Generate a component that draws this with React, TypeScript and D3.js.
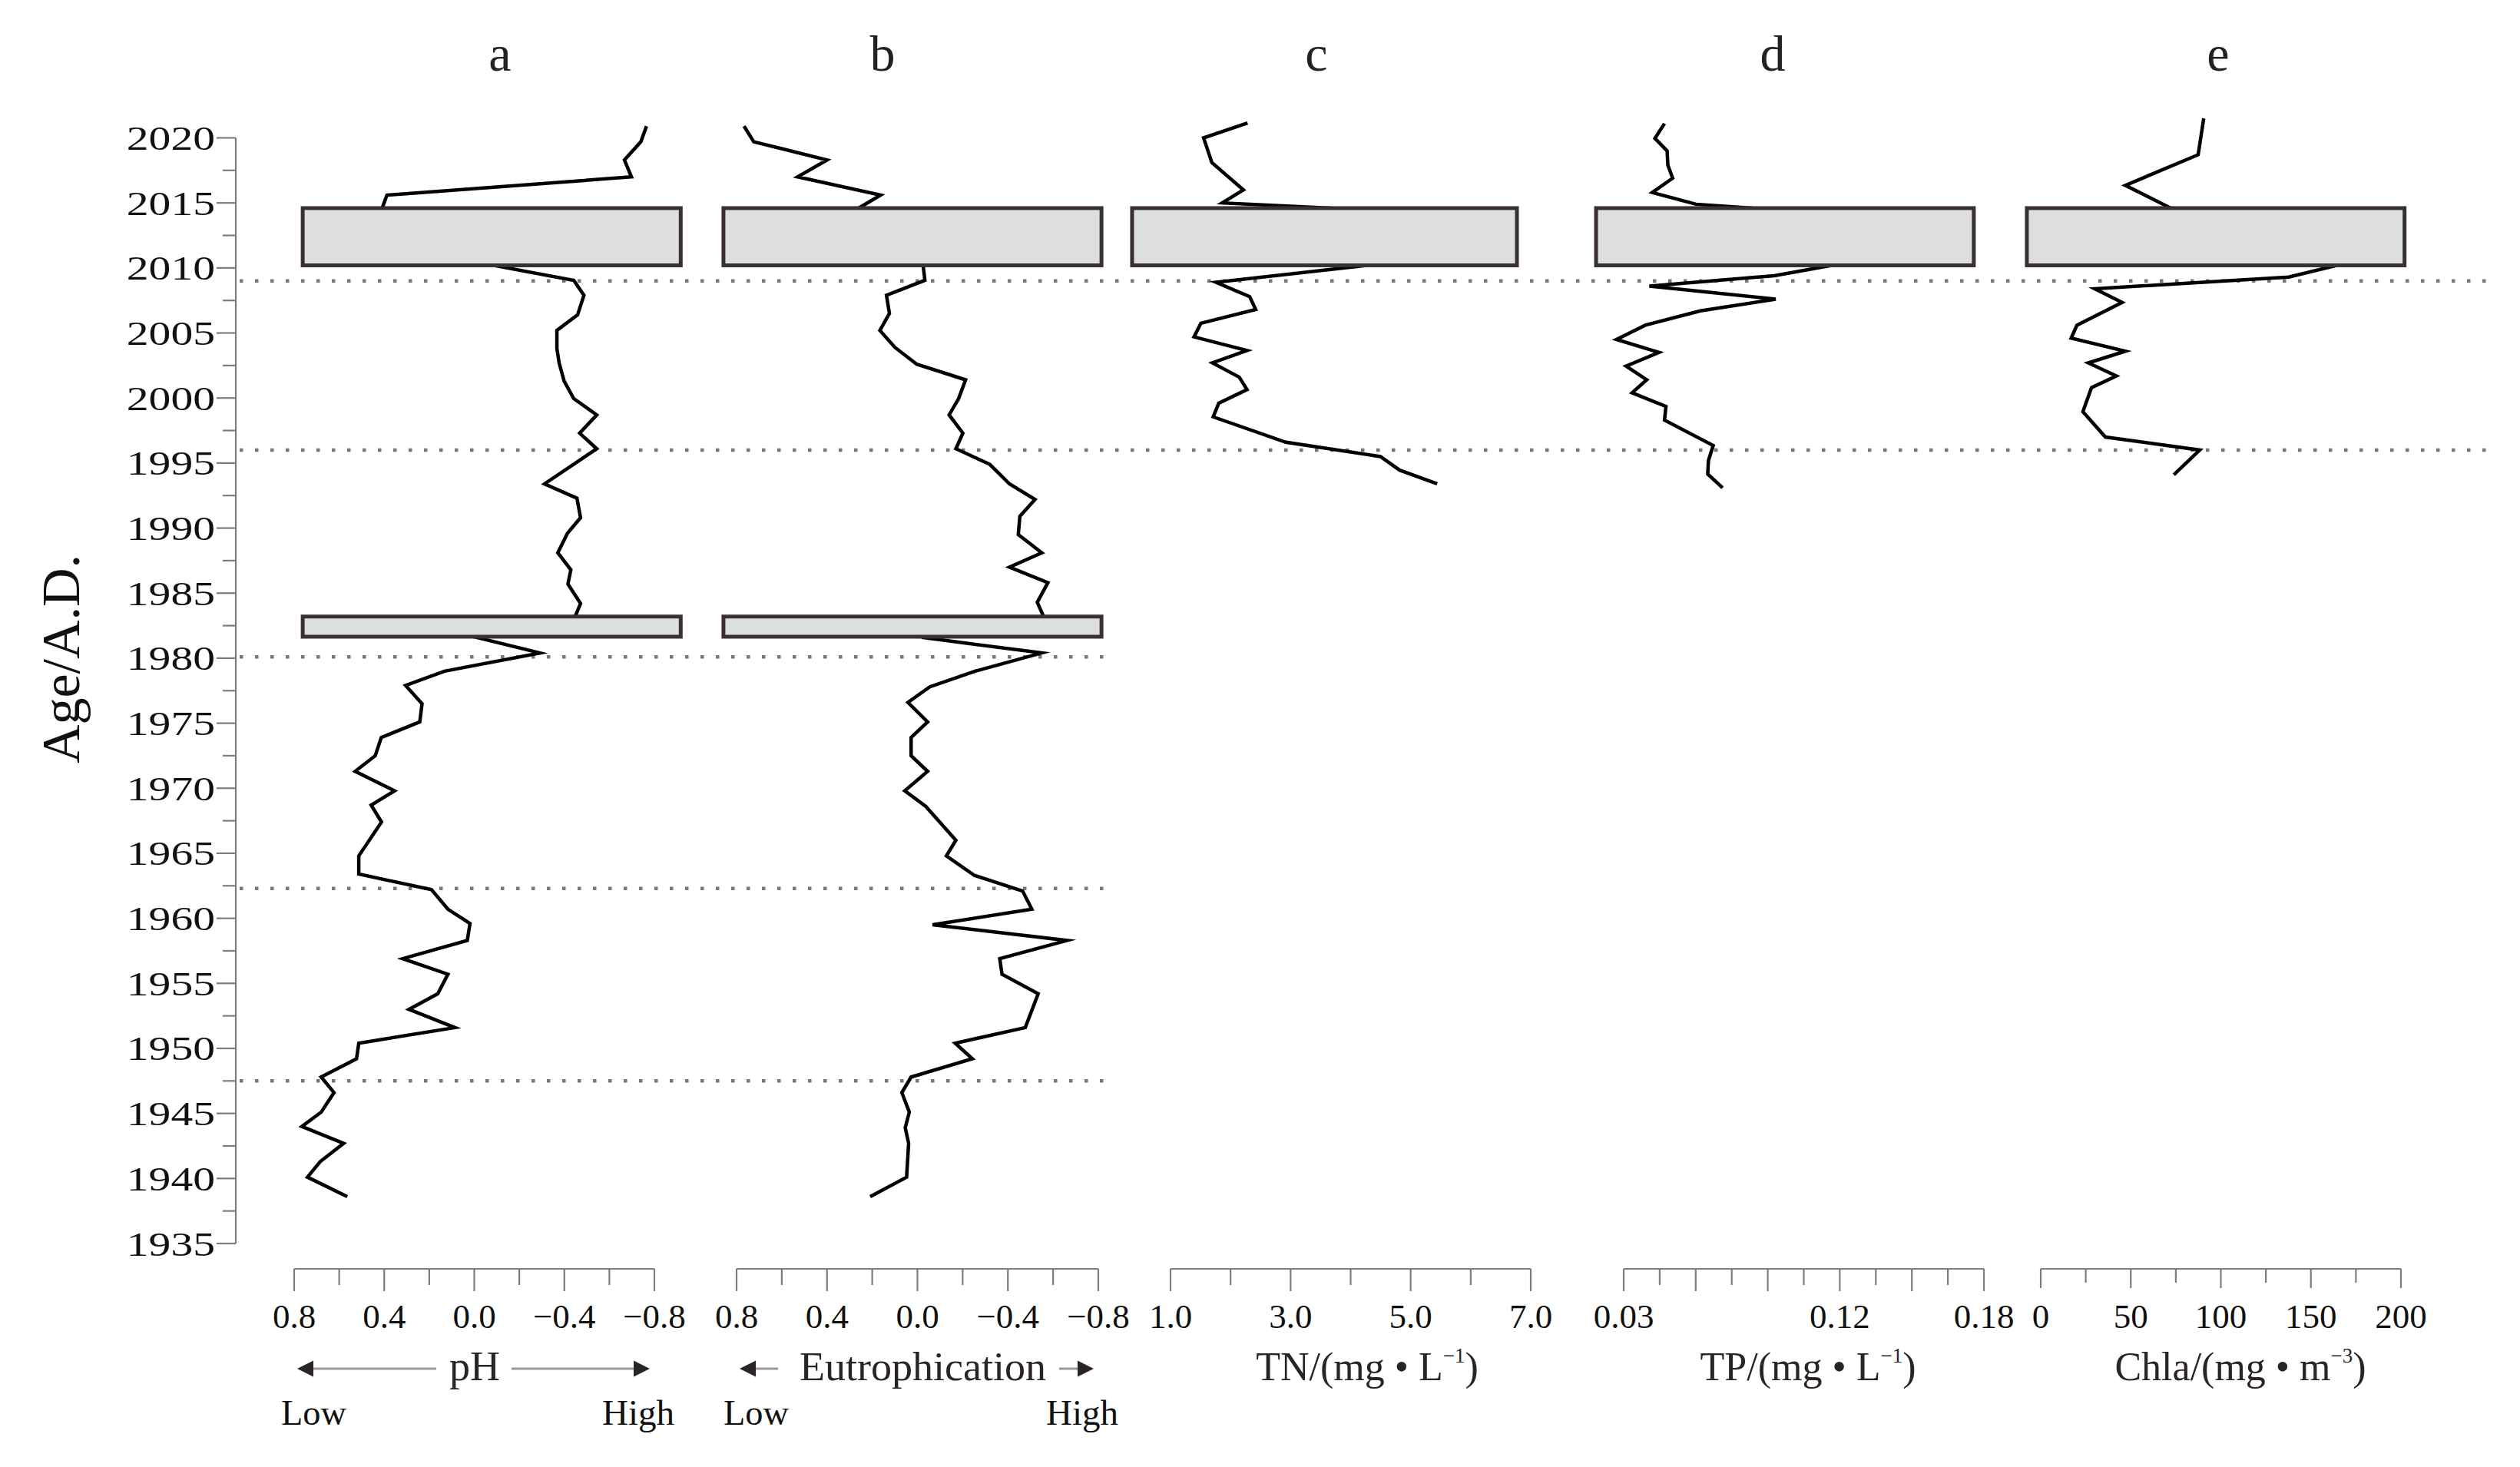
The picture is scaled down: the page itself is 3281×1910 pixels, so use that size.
import React from 'react';
import * as d3 from 'd3';

// ---------- data ----------
const yearMajorTicks = [1935, 1940, 1945, 1950, 1955, 1960, 1965, 1970, 1975, 1980, 1985, 1990, 1995, 2000, 2005, 2010, 2015, 2020];
const panelLetters = ['a', 'b', 'c', 'd', 'e'];

const phYears = [2020.9, 2019.7, 2018.3, 2017.0, 2015.6, 2014.6, 2010.2, 2009.05, 2007.9, 2006.4, 2005.2, 2003.8, 2002.7, 2001.3, 1999.95, 1998.7, 1997.3, 1996.1, 1993.4, 1992.3, 1990.8, 1989.6, 1988.1, 1986.8, 1985.7, 1984.2, 1983.2, 1981.6, 1980.4, 1979.0, 1977.9, 1976.5, 1975.1, 1973.9, 1972.5, 1971.3, 1969.8, 1968.7, 1967.4, 1964.8, 1963.4, 1962.2, 1960.7, 1959.6, 1958.3, 1956.9, 1955.7, 1954.2, 1953.0, 1951.6, 1950.4, 1949.2, 1947.8, 1946.6, 1945.1, 1944.0, 1942.7, 1941.3, 1940.1, 1938.6];
const phValues = [-0.765, -0.74, -0.667, -0.698, 0.388, 0.409, -0.084, -0.442, -0.487, -0.459, -0.367, -0.367, -0.377, -0.399, -0.442, -0.544, -0.468, -0.544, -0.312, -0.456, -0.472, -0.414, -0.371, -0.429, -0.416, -0.472, -0.448, -0.011, -0.292, 0.132, 0.305, 0.232, 0.242, 0.413, 0.44, 0.529, 0.354, 0.458, 0.412, 0.513, 0.513, 0.19, 0.117, 0.019, 0.031, 0.318, 0.117, 0.162, 0.29, 0.086, 0.513, 0.523, 0.68, 0.623, 0.68, 0.766, 0.58, 0.684, 0.741, 0.564];

const eutroYears = [2020.9, 2019.7, 2018.3, 2017.0, 2015.6, 2014.6, 2010.2, 2009.05, 2007.9, 2006.5, 2005.2, 2003.9, 2002.6, 2001.4, 1999.95, 1998.7, 1997.3, 1996.1, 1994.9, 1993.4, 1992.2, 1990.9, 1989.5, 1988.1, 1987.0, 1985.8, 1984.3, 1983.2, 1981.6, 1980.4, 1979.0, 1977.8, 1976.6, 1975.1, 1973.9, 1972.5, 1971.3, 1969.8, 1968.6, 1966.0, 1964.8, 1963.3, 1962.1, 1960.7, 1959.5, 1958.3, 1956.9, 1955.7, 1954.2, 1951.6, 1950.4, 1949.2, 1947.8, 1946.6, 1945.1, 1943.9, 1942.7, 1940.1, 1938.6];
const eutroValues = [0.767, 0.724, 0.4, 0.53, 0.163, 0.26, -0.025, -0.033, 0.137, 0.124, 0.166, 0.1, 0.003, -0.213, -0.182, -0.14, -0.201, -0.17, -0.32, -0.407, -0.52, -0.453, -0.446, -0.55, -0.407, -0.577, -0.53, -0.558, -0.019, -0.55, -0.255, -0.055, 0.042, -0.045, 0.028, 0.028, -0.045, 0.056, -0.037, -0.17, -0.128, -0.252, -0.465, -0.506, -0.067, -0.662, -0.364, -0.374, -0.534, -0.477, -0.167, -0.243, 0.028, 0.069, 0.036, 0.054, 0.039, 0.048, 0.209];

const tnYears = [2021.15, 2020.0, 2018.1, 2016.0, 2015.0, 2014.6, 2010.2, 2008.9, 2007.8, 2006.8, 2005.75, 2004.7, 2003.65, 2002.7, 2001.6, 2000.65, 1999.6, 1998.55, 1996.6, 1995.5, 1994.45, 1993.4];
const tnValues = [2.283, 1.551, 1.689, 2.214, 1.862, 3.652, 4.29, 1.757, 2.318, 2.419, 1.506, 1.391, 2.274, 1.698, 2.146, 2.274, 1.803, 1.711, 2.922, 4.497, 4.817, 5.442];

const tpYears = [2021.1, 2019.96, 2019.0, 2017.9, 2016.9, 2015.8, 2014.9, 2014.6, 2010.2, 2009.4, 2008.6, 2007.6, 2006.7, 2005.6, 2004.5, 2003.5, 2002.45, 2001.4, 2000.4, 1999.35, 1998.3, 1996.35, 1995.2, 1994.15, 1993.1];
const tpValues = [0.047, 0.043, 0.0481, 0.0484, 0.0504, 0.0419, 0.0601, 0.0835, 0.1167, 0.0927, 0.0407, 0.0933, 0.0619, 0.039, 0.027, 0.0447, 0.031, 0.0396, 0.0335, 0.0476, 0.047, 0.0673, 0.0653, 0.065, 0.0712];

const chlaYears = [2021.5, 2018.7, 2016.35, 2014.6, 2010.2, 2009.3, 2008.4, 2007.35, 2005.6, 2004.6, 2003.6, 2002.7, 2001.7, 2000.8, 1998.95, 1997.0, 1996.0, 1994.1];
const chlaValues = [90.5, 87.4, 47.0, 72.2, 164.6, 137.7, 30.0, 45.2, 20.1, 16.9, 47.0, 26.4, 42.0, 28.2, 23.4, 35.9, 88.3, 73.9];

const phTicks = [0.8, 0.6, 0.4, 0.2, 0.0, -0.2, -0.4, -0.6, -0.8];
const phTickLabels = ['0.8', '', '0.4', '', '0.0', '', '−0.4', '', '−0.8'];
const tnTicks = [1, 2, 3, 4, 5, 6, 7];
const tnTickLabels = ['1.0', '', '3.0', '', '5.0', '', '7.0'];
const tpTicks = [0.03, 0.045, 0.06, 0.075, 0.09, 0.105, 0.12, 0.135, 0.15, 0.165, 0.18];
const tpTickLabels = ['0.03', '', '', '', '', '', '0.12', '', '', '', '0.18'];
const chlaTicks = [0, 25, 50, 75, 100, 125, 150, 175, 200];
const chlaTickLabels = ['0', '', '50', '', '100', '', '150', '', '200'];

// hiatus boxes (years, and value extents per panel)
const bigBoxYears = [2014.6, 2010.2];
const smallBoxYears = [1983.2, 1981.65];
const phBoxValues = [0.762, -0.917];
const eutroBoxValues = [0.858, -0.814];
const tnBoxValues = [0.36, 6.77];
const tpBoxValues = [0.0185, 0.1758];
const chlaBoxValues = [-7.7, 202];

const upperBoundaryYears = [2009.0, 1996.0];
const lowerBoundaryYears = [1980.1, 1962.3, 1947.5];

// ---------- drawing ----------
const FONT = "'Liberation Serif', 'Times New Roman', serif";

export default function App() {
  const W = 3281;
  const H = 1910;
  const y = d3.scaleLinear().domain([1935, 2020]).range([1619, 179.5]);
  const axisY = 1652;
  const yAxisX = 307;

  const panels = [
    { years: phYears, values: phValues, domain: [0.8, -0.8], range: [383, 852], ticks: phTicks, labels: phTickLabels, box: phBoxValues, small: true, letterX: 651, majorLen: 29, minorLen: 21 },
    { years: eutroYears, values: eutroValues, domain: [0.8, -0.8], range: [959, 1430], ticks: phTicks, labels: phTickLabels, box: eutroBoxValues, small: true, letterX: 1149, majorLen: 29, minorLen: 21 },
    { years: tnYears, values: tnValues, domain: [1, 7], range: [1524, 1993], ticks: tnTicks, labels: tnTickLabels, box: tnBoxValues, small: false, letterX: 1714, majorLen: 29, minorLen: 21 },
    { years: tpYears, values: tpValues, domain: [0.03, 0.18], range: [2114, 2583], ticks: tpTicks, labels: tpTickLabels, box: tpBoxValues, small: false, letterX: 2308, majorLen: 29, minorLen: 21 },
    { years: chlaYears, values: chlaValues, domain: [0, 200], range: [2657, 3126], ticks: chlaTicks, labels: chlaTickLabels, box: chlaBoxValues, small: false, letterX: 2888, majorLen: 25, minorLen: 18 },
  ];

  const yMinor = d3.range(1937.5, 2020, 5);
  const grey = '#7d7d7d';

  const arrowHead = (tipX: number, yy: number, dir: number) => {
    const len = 21, half = 10.5;
    return `M${tipX},${yy} L${tipX - dir * len},${yy - half} L${tipX - dir * len},${yy + half} Z`;
  };

  return (
    <svg width={W} height={H} style={{ position: 'absolute', left: 0, top: 0, display: 'block', background: '#fff' }} fontFamily={FONT}>
      <rect x={0} y={0} width={W} height={H} fill="#fff" />

      {/* dotted zone boundaries */}
      {upperBoundaryYears.map((yr, i) => (
        <line key={'ub' + i} x1={312} x2={3243} y1={y(yr)} y2={y(yr)} stroke="#777" strokeWidth={4.5} strokeDasharray="4.5 15.5" />
      ))}
      {lowerBoundaryYears.map((yr, i) => (
        <line key={'lb' + i} x1={312} x2={1444} y1={y(yr)} y2={y(yr)} stroke="#777" strokeWidth={4.5} strokeDasharray="4.5 15.5" />
      ))}

      {/* curves */}
      {panels.map((p, i) => {
        const x = d3.scaleLinear().domain(p.domain).range(p.range);
        const pts = p.years.map((yr, k) => [yr, p.values[k]] as [number, number]);
        const line = d3.line<[number, number]>().x(d => x(d[1])).y(d => y(d[0]));
        return <path key={'c' + i} d={line(pts) || ''} fill="none" stroke="#000" strokeWidth={4.5} strokeLinejoin="miter" strokeMiterlimit={6} />;
      })}

      {/* hiatus boxes */}
      {panels.map((p, i) => {
        const x = d3.scaleLinear().domain(p.domain).range(p.range);
        const x0 = Math.min(x(p.box[0]), x(p.box[1]));
        const x1 = Math.max(x(p.box[0]), x(p.box[1]));
        return (
          <g key={'b' + i}>
            <rect x={x0} y={y(bigBoxYears[0])} width={x1 - x0} height={y(bigBoxYears[1]) - y(bigBoxYears[0])} fill="#dddfde" stroke="#3a3030" strokeWidth={5} />
            {p.small && (
              <rect x={x0} y={y(smallBoxYears[0])} width={x1 - x0} height={y(smallBoxYears[1]) - y(smallBoxYears[0])} fill="#dddfde" stroke="#3a3030" strokeWidth={5} />
            )}
          </g>
        );
      })}

      {/* y axis */}
      <g>
        <line x1={yAxisX} x2={yAxisX} y1={y(2020)} y2={y(1935)} stroke={grey} strokeWidth={2.2} />
        {yearMajorTicks.map(t => (
          <g key={'yt' + t}>
            <line x1={yAxisX - 25} x2={yAxisX} y1={y(t)} y2={y(t)} stroke={grey} strokeWidth={2.2} />
            <text transform={`translate(280,${y(t) + 15.5}) scale(1.28,1)`} textAnchor="end" fontSize={45} fill="#111">{t}</text>
          </g>
        ))}
        {yMinor.map(t => (
          <line key={'ym' + t} x1={yAxisX - 17} x2={yAxisX} y1={y(t)} y2={y(t)} stroke={grey} strokeWidth={2.2} />
        ))}
        <text transform={`translate(103,858) rotate(-90)`} textAnchor="middle" fontSize={70} fill="#111">Age/A.D.</text>
      </g>

      {/* bottom axes */}
      {panels.map((p, i) => {
        const x = d3.scaleLinear().domain(p.domain).range(p.range);
        return (
          <g key={'ax' + i}>
            <line x1={p.range[0]} x2={p.range[1]} y1={axisY} y2={axisY} stroke={grey} strokeWidth={2.2} />
            {p.ticks.map((t, k) => {
              const major = k % 2 === 0;
              return (
                <line key={k} x1={x(t)} x2={x(t)} y1={axisY} y2={axisY + (major ? p.majorLen : p.minorLen)} stroke={grey} strokeWidth={2.2} />
              );
            })}
            {p.ticks.map((t, k) => p.labels[k] ? (
              <text key={'l' + k} x={x(t)} y={1729} textAnchor="middle" fontSize={45} fill="#111">{p.labels[k]}</text>
            ) : null)}
            <text x={p.letterX} y={92} textAnchor="middle" fontSize={66} fill="#222">{panelLetters[i]}</text>
          </g>
        );
      })}

      {/* pH label with arrows */}
      <g>
        <line x1={400} x2={568} y1={1782} y2={1782} stroke="#999" strokeWidth={3} />
        <line x1={666} x2={834} y1={1782} y2={1782} stroke="#999" strokeWidth={3} />
        <path d={arrowHead(387, 1782, -1)} fill="#2b2424" />
        <path d={arrowHead(846, 1782, 1)} fill="#2b2424" />
        <text x={618} y={1797} textAnchor="middle" fontSize={54} fill="#2b2424">pH</text>
        <text x={366} y={1855} fontSize={47} textLength={85} lengthAdjust="spacingAndGlyphs" fill="#111">Low</text>
        <text x={878} y={1855} textAnchor="end" fontSize={47} textLength={94} lengthAdjust="spacingAndGlyphs" fill="#111">High</text>
      </g>
      <g>
        <line x1={975} x2={1013} y1={1782} y2={1782} stroke="#999" strokeWidth={3} />
        <line x1={1379} x2={1412} y1={1782} y2={1782} stroke="#999" strokeWidth={3} />
        <path d={arrowHead(963, 1782, -1)} fill="#2b2424" />
        <path d={arrowHead(1424, 1782, 1)} fill="#2b2424" />
        <text x={1041} y={1797} fontSize={52} textLength={321} lengthAdjust="spacingAndGlyphs" fill="#2b2424">Eutrophication</text>
        <text x={942} y={1855} fontSize={47} textLength={85} lengthAdjust="spacingAndGlyphs" fill="#111">Low</text>
        <text x={1456} y={1855} textAnchor="end" fontSize={47} textLength={94} lengthAdjust="spacingAndGlyphs" fill="#111">High</text>
      </g>

      {/* unit labels */}
      <text x={1780} y={1797} textAnchor="middle" fontSize={52} fill="#2b2424">
        TN/(mg • L<tspan fontSize={27} dy={-23}>−1</tspan><tspan dy={23}>)</tspan>
      </text>
      <text x={2354} y={1797} textAnchor="middle" fontSize={52} fill="#2b2424">
        TP/(mg • L<tspan fontSize={27} dy={-23}>−1</tspan><tspan dy={23}>)</tspan>
      </text>
      <text x={2917} y={1797} textAnchor="middle" fontSize={52} fill="#2b2424">
        Chla/(mg • m<tspan fontSize={27} dy={-23}>−3</tspan><tspan dy={23}>)</tspan>
      </text>
    </svg>
  );
}
